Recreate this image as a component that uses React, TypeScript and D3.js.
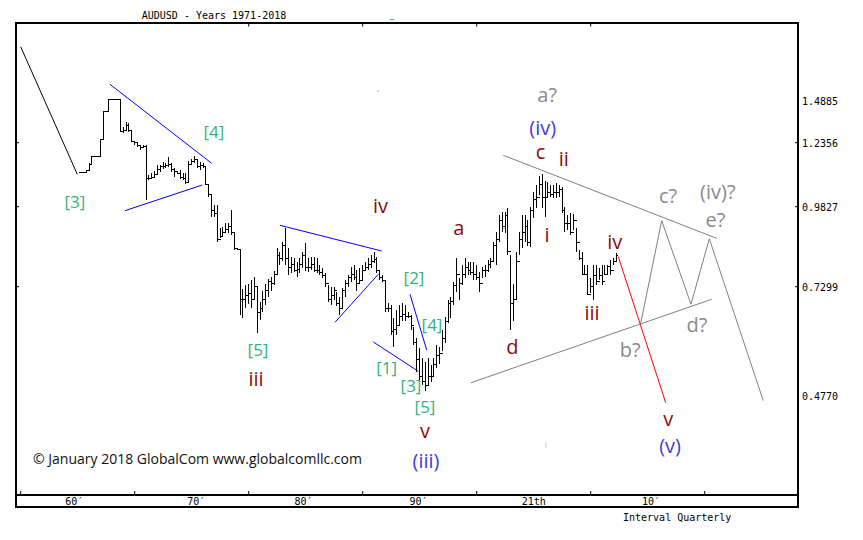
import React from "react";
import * as d3 from "d3";

const START_YEAR = 1971;

// Quarterly bars 1971Q1 .. 2018Q1
const highs = [
  1.118, 1.12, 1.128, 1.154, 1.183, 1.185, 1.185, 1.256, 1.428, 1.43,
  1.5, 1.5, 1.5, 1.5, 1.498, 1.333, 1.36, 1.354, 1.313, 1.245,
  1.238, 1.226, 1.226, 1.226, 1.108, 1.115, 1.124, 1.147, 1.147, 1.158,
  1.155, 1.178, 1.154, 1.134, 1.125, 1.128, 1.115, 1.115, 1.163, 1.171,
  1.183, 1.167, 1.16, 1.154, 1.14, 1.068, 1.029, 0.989, 0.989, 0.915,
  0.92, 0.93, 0.93, 0.972, 0.9, 0.853, 0.85, 0.725, 0.735, 0.74,
  0.75, 0.76, 0.73, 0.695, 0.72, 0.74, 0.755, 0.76, 0.78, 0.851,
  0.84, 0.87, 0.914, 0.851, 0.825, 0.82, 0.809, 0.82, 0.84, 0.867,
  0.82, 0.825, 0.825, 0.82, 0.8, 0.788, 0.772, 0.735, 0.73, 0.73,
  0.718, 0.707, 0.726, 0.751, 0.767, 0.793, 0.799, 0.783, 0.788, 0.799,
  0.809, 0.82, 0.83, 0.841, 0.825, 0.78, 0.767, 0.751, 0.691, 0.687,
  0.656, 0.676, 0.687, 0.691, 0.687, 0.672, 0.664, 0.637, 0.61, 0.587,
  0.563, 0.555, 0.563, 0.548, 0.563, 0.594, 0.59, 0.63, 0.66, 0.7,
  0.707, 0.746, 0.82, 0.757, 0.799, 0.82, 0.809, 0.809, 0.809, 0.799,
  0.777, 0.793, 0.799, 0.814, 0.82, 0.872, 0.904, 0.957, 0.967, 0.967,
  0.978, 0.83, 0.74, 0.841, 0.904, 0.957, 0.957, 0.94, 0.983, 1.042,
  1.068, 1.105, 1.111, 1.085, 1.082, 1.068, 1.068, 1.075, 1.068, 1.06,
  0.983, 0.957, 0.962, 0.96, 0.914, 0.846, 0.841, 0.799, 0.799, 0.757,
  0.799, 0.799, 0.788, 0.799, 0.799, 0.799, 0.814, 0.82, 0.836,
];
const lows = [
  1.114, 1.115, 1.118, 1.126, 1.15, 1.18, 1.18, 1.183, 1.256, 1.425,
  1.428, 1.495, 1.495, 1.495, 1.3, 1.293, 1.31, 1.302, 1.238, 1.225,
  1.218, 1.207, 1.213, 1.009, 1.088, 1.095, 1.101, 1.11, 1.12, 1.131,
  1.135, 1.14, 1.121, 1.101, 1.11, 1.094, 1.088, 1.071, 1.08, 1.147,
  1.154, 1.134, 1.127, 1.134, 1.068, 1.022, 0.951, 0.951, 0.872, 0.883,
  0.888, 0.904, 0.9, 0.893, 0.846, 0.846, 0.665, 0.656, 0.68, 0.69,
  0.68, 0.7, 0.623, 0.652, 0.672, 0.688, 0.707, 0.72, 0.735, 0.77,
  0.8, 0.81, 0.8, 0.767, 0.772, 0.777, 0.762, 0.772, 0.79, 0.78,
  0.777, 0.783, 0.777, 0.772, 0.767, 0.757, 0.73, 0.695, 0.687, 0.699,
  0.684, 0.664, 0.68, 0.707, 0.73, 0.746, 0.751, 0.72, 0.74, 0.751,
  0.783, 0.783, 0.788, 0.804, 0.772, 0.751, 0.746, 0.672, 0.672, 0.618,
  0.59, 0.618, 0.641, 0.649, 0.649, 0.656, 0.629, 0.594, 0.532, 0.509,
  0.501, 0.487, 0.501, 0.509, 0.52, 0.54, 0.55, 0.58, 0.6, 0.645,
  0.656, 0.687, 0.718, 0.699, 0.735, 0.757, 0.767, 0.767, 0.751, 0.751,
  0.718, 0.757, 0.762, 0.777, 0.788, 0.809, 0.799, 0.872, 0.904, 0.9,
  0.83, 0.628, 0.65, 0.7, 0.83, 0.851, 0.872, 0.86, 0.856, 0.946,
  0.978, 1.029, 0.978, 0.95, 1.016, 1.022, 1.016, 1.016, 1.022, 0.962,
  0.904, 0.909, 0.893, 0.91, 0.841, 0.815, 0.767, 0.767, 0.711, 0.715,
  0.699, 0.735, 0.751, 0.735, 0.767, 0.767, 0.767, 0.799, 0.809,
];
const closes = [
  1.116, 1.118, 1.126, 1.15, 1.183, 1.183, 1.183, 1.256, 1.428, 1.428,
  1.498, 1.498, 1.498, 1.498, 1.302, 1.31, 1.34, 1.31, 1.24, 1.235,
  1.225, 1.215, 1.22, 1.095, 1.095, 1.1, 1.11, 1.13, 1.14, 1.14,
  1.145, 1.15, 1.13, 1.12, 1.115, 1.1, 1.095, 1.08, 1.15, 1.16,
  1.17, 1.14, 1.145, 1.14, 1.07, 1.03, 0.97, 0.96, 0.88, 0.89,
  0.9, 0.91, 0.92, 0.9, 0.85, 0.848, 0.7, 0.7, 0.71, 0.715,
  0.7, 0.73, 0.67, 0.68, 0.7, 0.72, 0.745, 0.74, 0.77, 0.83,
  0.82, 0.86, 0.82, 0.79, 0.8, 0.78, 0.785, 0.8, 0.83, 0.79,
  0.79, 0.8, 0.78, 0.78, 0.775, 0.765, 0.74, 0.7, 0.71, 0.72,
  0.69, 0.68, 0.72, 0.74, 0.76, 0.77, 0.76, 0.74, 0.75, 0.78,
  0.79, 0.8, 0.81, 0.815, 0.78, 0.76, 0.75, 0.68, 0.68, 0.625,
  0.63, 0.64, 0.66, 0.665, 0.66, 0.66, 0.64, 0.6, 0.56, 0.52,
  0.51, 0.5, 0.52, 0.52, 0.55, 0.57, 0.575, 0.61, 0.65, 0.69,
  0.695, 0.735, 0.77, 0.74, 0.77, 0.79, 0.78, 0.775, 0.77, 0.76,
  0.74, 0.78, 0.78, 0.8, 0.81, 0.86, 0.88, 0.94, 0.92, 0.955,
  0.84, 0.69, 0.7, 0.81, 0.88, 0.9, 0.92, 0.87, 0.97, 1.01,
  1.02, 1.07, 1.02, 1.02, 1.04, 1.03, 1.04, 1.04, 1.05, 0.97,
  0.93, 0.93, 0.9, 0.94, 0.87, 0.82, 0.77, 0.77, 0.712, 0.73,
  0.765, 0.745, 0.765, 0.745, 0.77, 0.795, 0.78, 0.81, 0.83,
];

// Axes
const yTickValues = [1.4885, 1.2356, 0.9827, 0.7299, 0.477];
const yTickLabels = ["1.4885", "1.2356", "0.9827", "0.7299", "0.4770"];
const yMarkedTicks = [1.2356, 0.9827, 0.7299];
const xTickYears = [1966, 1976, 1986, 1996, 2006, 2016, 2026];
const xTopTickYears = [1986, 1996, 2006, 2016];
const xLabels = ["60\u2032", "70\u2032", "80\u2032", "90\u2032", "21th", "10\u2032"];
const xLabelYears = [1970.7, 1981.4, 1990.8, 2000.9, 2011.0, 2021.3];

// Annotation lines as [year, value] points
const blackLine: [number, number][] = [[1966.0, 1.819], [1970.965, 1.1107]];
const blueLines: [number, number][][] = [
  [[1973.83, 1.5906], [1982.75, 1.1542]],
  [[1975.15, 0.9701], [1981.93, 1.0685]],
  [[1988.745, 0.9239], [1997.667, 0.8427]],
  [[1993.57, 0.6471], [1997.37, 0.7691]],
  [[1996.93, 0.6013], [2000.877, 0.5331]],
  [[2000.149, 0.7123], [2001.614, 0.5826]],
];
const grayLines: [number, number][][] = [
  [[2008.333, 1.1858], [2027.053, 0.8828]],
  [[2005.5, 0.5066], [2026.614, 0.7006]],
  [[2020.386, 0.6448], [2022.228, 0.9385], [2024.798, 0.689], [2026.404, 0.8816], [2031.14, 0.4647]],
];
const redLine: [number, number][] = [[2018.42, 0.8247], [2022.58, 0.46]];

// Wave labels: [text, year, value]
const greenLabels: [string, number, number][] = [
  ["[3]", 1970.763, 1.0013],
  ["[4]", 1982.956, 1.3067],
  ["[5]", 1986.816, 0.5838],
  ["[2]", 2000.5, 0.759],
  ["[4]", 2002.079, 0.6431],
  ["[1]", 1998.105, 0.5408],
  ["[3]", 2000.237, 0.4989],
  ["[5]", 2001.465, 0.4512],
];
const redLabels: [string, number, number][] = [
  ["iv", 1997.56, 0.9855],
  ["iii", 1986.64, 0.5152],
  ["v", 2001.465, 0.3965],
  ["a", 2004.42, 0.917],
  ["c", 2011.596, 1.2],
  ["ii", 2013.64, 1.1724],
  ["i", 2012.167, 0.8964],
  ["iv", 2018.105, 0.8734],
  ["d", 2009.14, 0.5903],
  ["iii", 2016.11, 0.6699],
  ["v", 2022.807, 0.4237],
];
const blueLabels: [string, number, number][] = [
  ["(iv)", 2011.79, 1.3292],
  ["(iii)", 2001.553, 0.3267],
  ["(v)", 2022.96, 0.3593],
];
const grayLabels: [string, number, number][] = [
  ["a?", 2012.18, 1.5256],
  ["c?", 2022.78, 1.0278],
  ["(iv)?", 2027.15, 1.0408],
  ["e?", 2026.95, 0.9407],
  ["b?", 2019.47, 0.5838],
  ["d?", 2025.32, 0.6408],
];

const MONO = "'DejaVu Sans Mono', monospace";
const SANS = "'Open Sans', 'Noto Sans', sans-serif";

export default function App() {
  const x = d3.scaleLinear().domain([1966, 2026]).range([20.7, 704.7]);
  const y = d3.scaleLinear().domain(yTickValues).range([101.1, 142.7, 206.7, 286.7, 395.4]);
  const line = d3
    .line<[number, number]>()
    .x((d) => x(d[0]))
    .y((d) => y(d[1]));

  const barPath = highs
    .map((h, i) => {
      const bx = Math.round(x(START_YEAR + 0.2 + i / 4)) + 0.5;
      const yh = y(h);
      const yl = y(lows[i]);
      const yc = y(closes[i]);
      const yo = y(i > 0 ? closes[i - 1] : closes[i]);
      return `M${bx},${yh}V${yl}M${bx - 1.5},${yo}H${bx}M${bx},${yc}H${bx + 1.5}`;
    })
    .join("");

  const renderLabels = (
    arr: [string, number, number][],
    color: string,
    size: number
  ) =>
    arr.map(([t, yr, v], k) => (
      <text
        key={t + k}
        x={x(yr)}
        y={y(v)}
        fill={color}
        fontSize={size}
        fontFamily={SANS}
        textAnchor="middle"
        dominantBaseline="central"
      >
        {t}
      </text>
    ));

  return (
    <svg
      width={863}
      height={540}
      style={{ position: "absolute", left: 0, top: 0, background: "#fff" }}
    >
      <rect x={0} y={0} width={863} height={540} fill="#fff" />
      {/* title */}
      <text x={214} y={15} fontFamily={MONO} fontSize={10} textAnchor="middle" dominantBaseline="central" fill="#000">
        AUDUSD - Years 1971-2018
      </text>
      <line x1={390} x2={394} y1={19.5} y2={19.5} stroke="#3cb878" strokeWidth={1} />
      <rect x={377.5} y={90.5} width={1.5} height={1.5} fill="#bbb" />
      <rect x={545.5} y={443} width={1} height={5} fill="#f4b0c8" />

      {/* frame */}
      <rect x={16} y={23} width={782} height={484} fill="none" stroke="#000" strokeWidth={2} />
      <line x1={16} x2={798} y1={495} y2={495} stroke="#000" strokeWidth={2} />

      {/* ticks */}
      {xTickYears.map((yr) => (
        <line key={"bt" + yr} x1={x(yr)} x2={x(yr)} y1={495} y2={491} stroke="#000" strokeWidth={1} />
      ))}
      {xTopTickYears.map((yr) => (
        <line key={"tt" + yr} x1={x(yr)} x2={x(yr)} y1={23} y2={26.5} stroke="#000" strokeWidth={1} />
      ))}
      {yMarkedTicks.map((v) => (
        <g key={"yt" + v}>
          <line x1={16} x2={19} y1={y(v)} y2={y(v)} stroke="#000" strokeWidth={1} />
          <line x1={795} x2={798} y1={y(v)} y2={y(v)} stroke="#000" strokeWidth={1} />
        </g>
      ))}
      {yTickValues.map((v, k) => (
        <text key={"yl" + k} x={802} y={y(v) + 0.6} fontFamily={MONO} fontSize={10} dominantBaseline="central" fill="#000">
          {yTickLabels[k]}
        </text>
      ))}
      {xLabels.map((t, k) => (
        <text key={"xl" + k} x={x(xLabelYears[k])} y={501.5} fontFamily={MONO} fontSize={10} textAnchor="middle" dominantBaseline="central" fill="#000">
          {t}
        </text>
      ))}
      <text x={623} y={517} fontFamily={MONO} fontSize={10} dominantBaseline="central" fill="#000">
        Interval Quarterly
      </text>

      {/* annotation lines */}
      <path d={line(blackLine) || ""} fill="none" stroke="#000" strokeWidth={1} />
      {blueLines.map((l, k) => (
        <path key={"bl" + k} d={line(l) || ""} fill="none" stroke="#0000ff" strokeWidth={1} />
      ))}
      {grayLines.map((l, k) => (
        <path key={"gl" + k} d={line(l) || ""} fill="none" stroke="#808080" strokeWidth={1} />
      ))}
      <path d={line(redLine) || ""} fill="none" stroke="#ff0000" strokeWidth={1} />

      {/* price bars */}
      <path d={barPath} fill="none" stroke="#000" strokeWidth={1} shapeRendering="crispEdges" />

      {/* labels */}
      {renderLabels(greenLabels, "#35b27a", 17)}
      {renderLabels(redLabels, "#8b0a0a", 20)}
      {renderLabels(blueLabels, "#4040d8", 20)}
      {renderLabels(grayLabels, "#8a8a8a", 20)}

      <text x={33} y={458} fontFamily={SANS} fontSize={14} dominantBaseline="central" fill="#111">
        © January 2018 GlobalCom www.globalcomllc.com
      </text>
    </svg>
  );
}
